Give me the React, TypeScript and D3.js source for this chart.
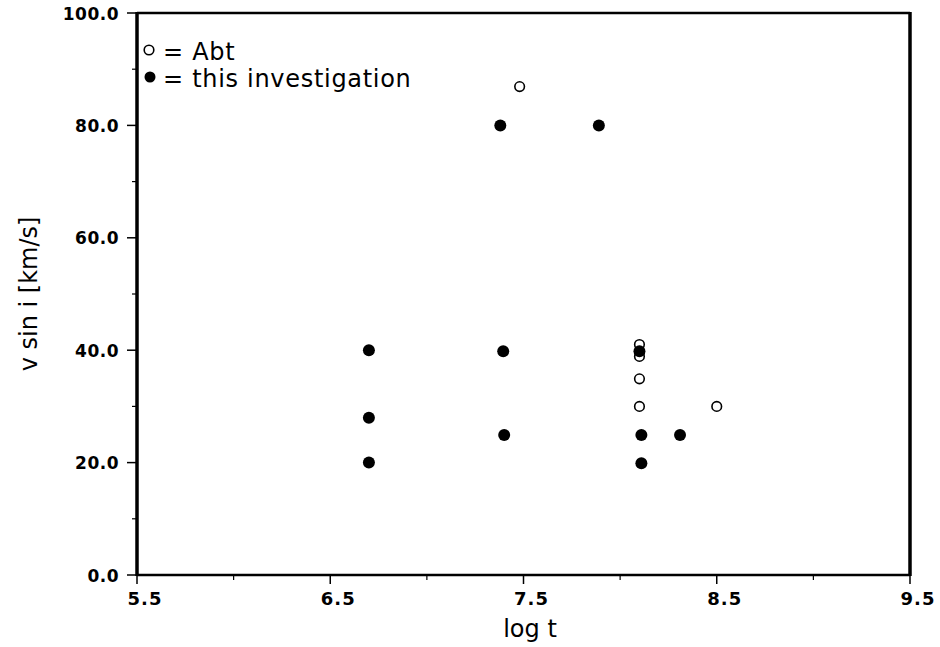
import React, { useEffect, useRef } from "react";
import * as d3 from "d3";

const filledX = [6.7, 6.7, 6.7, 7.38, 7.395, 7.4, 7.89, 8.1, 8.11, 8.11, 8.31];
const filledY = [40, 28, 20, 80, 39.8, 24.9, 80, 39.8, 24.9, 19.9, 24.9];
const openX = [7.48, 8.1, 8.1, 8.1, 8.1, 8.5];
const openY = [86.9, 41, 38.9, 34.9, 30, 30];
const xTicks = [5.5, 6.5, 7.5, 8.5, 9.5];
const xMinor = [6.0, 7.0, 8.0, 9.0];
const yTicks = [0, 20, 40, 60, 80, 100];
const yMinor = [10, 30, 50, 70, 90];
const legendLabels = ["= Abt", "= this investigation"];

const W = 940, H = 647;
const L = 137, R = 910, T = 13, B = 575;
const FONT = "'DejaVu Sans', sans-serif";

export default function App() {
  const ref = useRef<SVGSVGElement>(null);
  useEffect(() => {
    const svg = d3.select(ref.current);
    svg.selectAll("*").remove();
    const x = d3.scaleLinear().domain([5.5, 9.5]).range([L, R]);
    const y = d3.scaleLinear().domain([0, 100]).range([B, T]);

    const g = svg.append("g");
    // frame
    g.append("line").attr("x1", L).attr("x2", R).attr("y1", T).attr("y2", T).attr("stroke", "#000").attr("stroke-width", 2.5);
    g.append("line").attr("x1", L).attr("x2", R).attr("y1", B).attr("y2", B).attr("stroke", "#000").attr("stroke-width", 2.5);
    g.append("line").attr("x1", L).attr("x2", L).attr("y1", T - 1).attr("y2", B + 1).attr("stroke", "#000").attr("stroke-width", 3.5);
    g.append("line").attr("x1", R).attr("x2", R).attr("y1", T - 1).attr("y2", B + 1).attr("stroke", "#000").attr("stroke-width", 3.5);

    // x ticks
    g.selectAll(".xt").data(xTicks).enter().append("line")
      .attr("x1", d => x(d)).attr("x2", d => x(d)).attr("y1", B).attr("y2", B + 9)
      .attr("stroke", "#000").attr("stroke-width", 1.5);
    g.selectAll(".xm").data(xMinor).enter().append("line")
      .attr("x1", d => x(d)).attr("x2", d => x(d)).attr("y1", B).attr("y2", B + 5)
      .attr("stroke", "#000").attr("stroke-width", 1.2);
    g.selectAll(".xl").data(xTicks).enter().append("text")
      .attr("x", d => x(d) + 8).attr("y", B + 30)
      .attr("text-anchor", "middle").attr("font-family", FONT).attr("font-size", 18).attr("font-weight", "bold")
      .attr("letter-spacing", 1)
      .text(d => d.toFixed(1));

    // y ticks
    g.selectAll(".yt").data(yTicks).enter().append("line")
      .attr("x1", L - 10).attr("x2", L).attr("y1", d => y(d)).attr("y2", d => y(d))
      .attr("stroke", "#000").attr("stroke-width", 1.5);
    g.selectAll(".ym").data(yMinor).enter().append("line")
      .attr("x1", L - 5).attr("x2", L).attr("y1", d => y(d)).attr("y2", d => y(d))
      .attr("stroke", "#000").attr("stroke-width", 1.2);
    g.selectAll(".yl").data(yTicks).enter().append("text")
      .attr("x", L - 18).attr("y", d => y(d) + 6.5)
      .attr("text-anchor", "end").attr("font-family", FONT).attr("font-size", 17).attr("font-weight", "bold")
      .attr("letter-spacing", 0.5)
      .text(d => d.toFixed(1));

    // axis titles
    g.append("text").attr("x", 530).attr("y", 637).attr("text-anchor", "middle")
      .attr("font-family", FONT).attr("font-size", 24).text("log t");
    g.append("text").attr("transform", `translate(37, 294) rotate(-90)`).attr("text-anchor", "middle")
      .attr("font-family", FONT).attr("font-size", 24).text("v sin i [km/s]");

    // data
    g.selectAll(".op").data(openX.map((v, i) => [v, openY[i]])).enter().append("circle")
      .attr("cx", d => x(d[0])).attr("cy", d => y(d[1])).attr("r", 4.8)
      .attr("fill", "#fff").attr("stroke", "#000").attr("stroke-width", 1.6);
    g.selectAll(".fp").data(filledX.map((v, i) => [v, filledY[i]])).enter().append("circle")
      .attr("cx", d => x(d[0])).attr("cy", d => y(d[1])).attr("r", 6)
      .attr("fill", "#000");

    // legend
    g.append("circle").attr("cx", 149).attr("cy", 50).attr("r", 4.8).attr("fill", "#fff").attr("stroke", "#000").attr("stroke-width", 1.6);
    g.append("circle").attr("cx", 150).attr("cy", 77).attr("r", 5.5).attr("fill", "#000");
    g.selectAll(".lg").data(legendLabels).enter().append("text")
      .attr("x", 163).attr("y", (d, i) => 60 + i * 27)
      .attr("font-family", FONT).attr("font-size", 24).attr("letter-spacing", 0.7)
      .text(d => d);
  }, []);
  return (
    <svg ref={ref} width={W} height={H} style={{ position: "absolute", left: 0, top: 0, background: "#fff" }} />
  );
}
